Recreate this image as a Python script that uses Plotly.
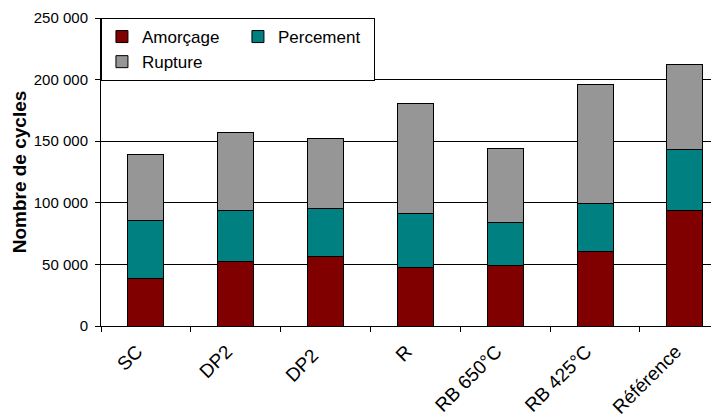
import plotly.graph_objects as go

categories = ["SC", "DP2", "DP2 ", "R", "RB 650°C", "RB 425°C", "Référence"]
amorcage = [38500, 52000, 56200, 47200, 49400, 60500, 93700]
percement = [47300, 41700, 38900, 44400, 34600, 38700, 49500]
rupture = [53800, 63500, 57300, 89200, 59800, 96800, 68900]
y_ticks = [0, 50000, 100000, 150000, 200000, 250000]

fig = go.Figure()
for name, vals, col in [("Amorçage", amorcage, "#800000"),
                        ("Percement", percement, "#008080"),
                        ("Rupture", rupture, "#969696")]:
    fig.add_trace(go.Bar(x=categories, y=vals, name=name, width=0.4,
                         marker=dict(color=col, line=dict(color="#000000", width=1))))

# the page body has an 8px margin, so the figure is sized to the visible area
fig.update_layout(
    width=711, height=411, barmode="stack", separators=", ",
    margin=dict(l=93, r=0, t=10, b=93),
    plot_bgcolor="white", paper_bgcolor="white",
    font=dict(family="Liberation Sans, Arial, sans-serif", size=15, color="#000000"),
    legend=dict(orientation="h", x=-0.0001, xanchor="left", y=1, yanchor="top",
                entrywidth=91, bordercolor="#000000", borderwidth=1,
                bgcolor="white", font=dict(size=17), traceorder="normal"),
    showlegend=True,
)
fig.update_xaxes(type="category", range=[-0.5, 6.38], tickson="boundaries",
                 ticks="outside", ticklen=5, tickcolor="#000000",
                 showline=True, linecolor="#000000", linewidth=1,
                 tickangle=-45, tickfont=dict(size=19), showgrid=False,
                 automargin=False, ticklabelstandoff=6, ticklabelshift=-9)
fig.update_yaxes(range=[0, 250000], tickvals=y_ticks, tickformat=",d",
                 ticks="outside", ticklen=5, tickcolor="#000000",
                 showline=True, linecolor="#000000", linewidth=1,
                 showgrid=True, gridcolor="#000000", gridwidth=1,
                 zeroline=False, tickfont=dict(size=15), automargin=False,
                 ticklabelstandoff=4,
                 title=dict(text="<b>Nombre de cycles</b>", font=dict(size=19), standoff=2))
fig.write_html("out.html")
